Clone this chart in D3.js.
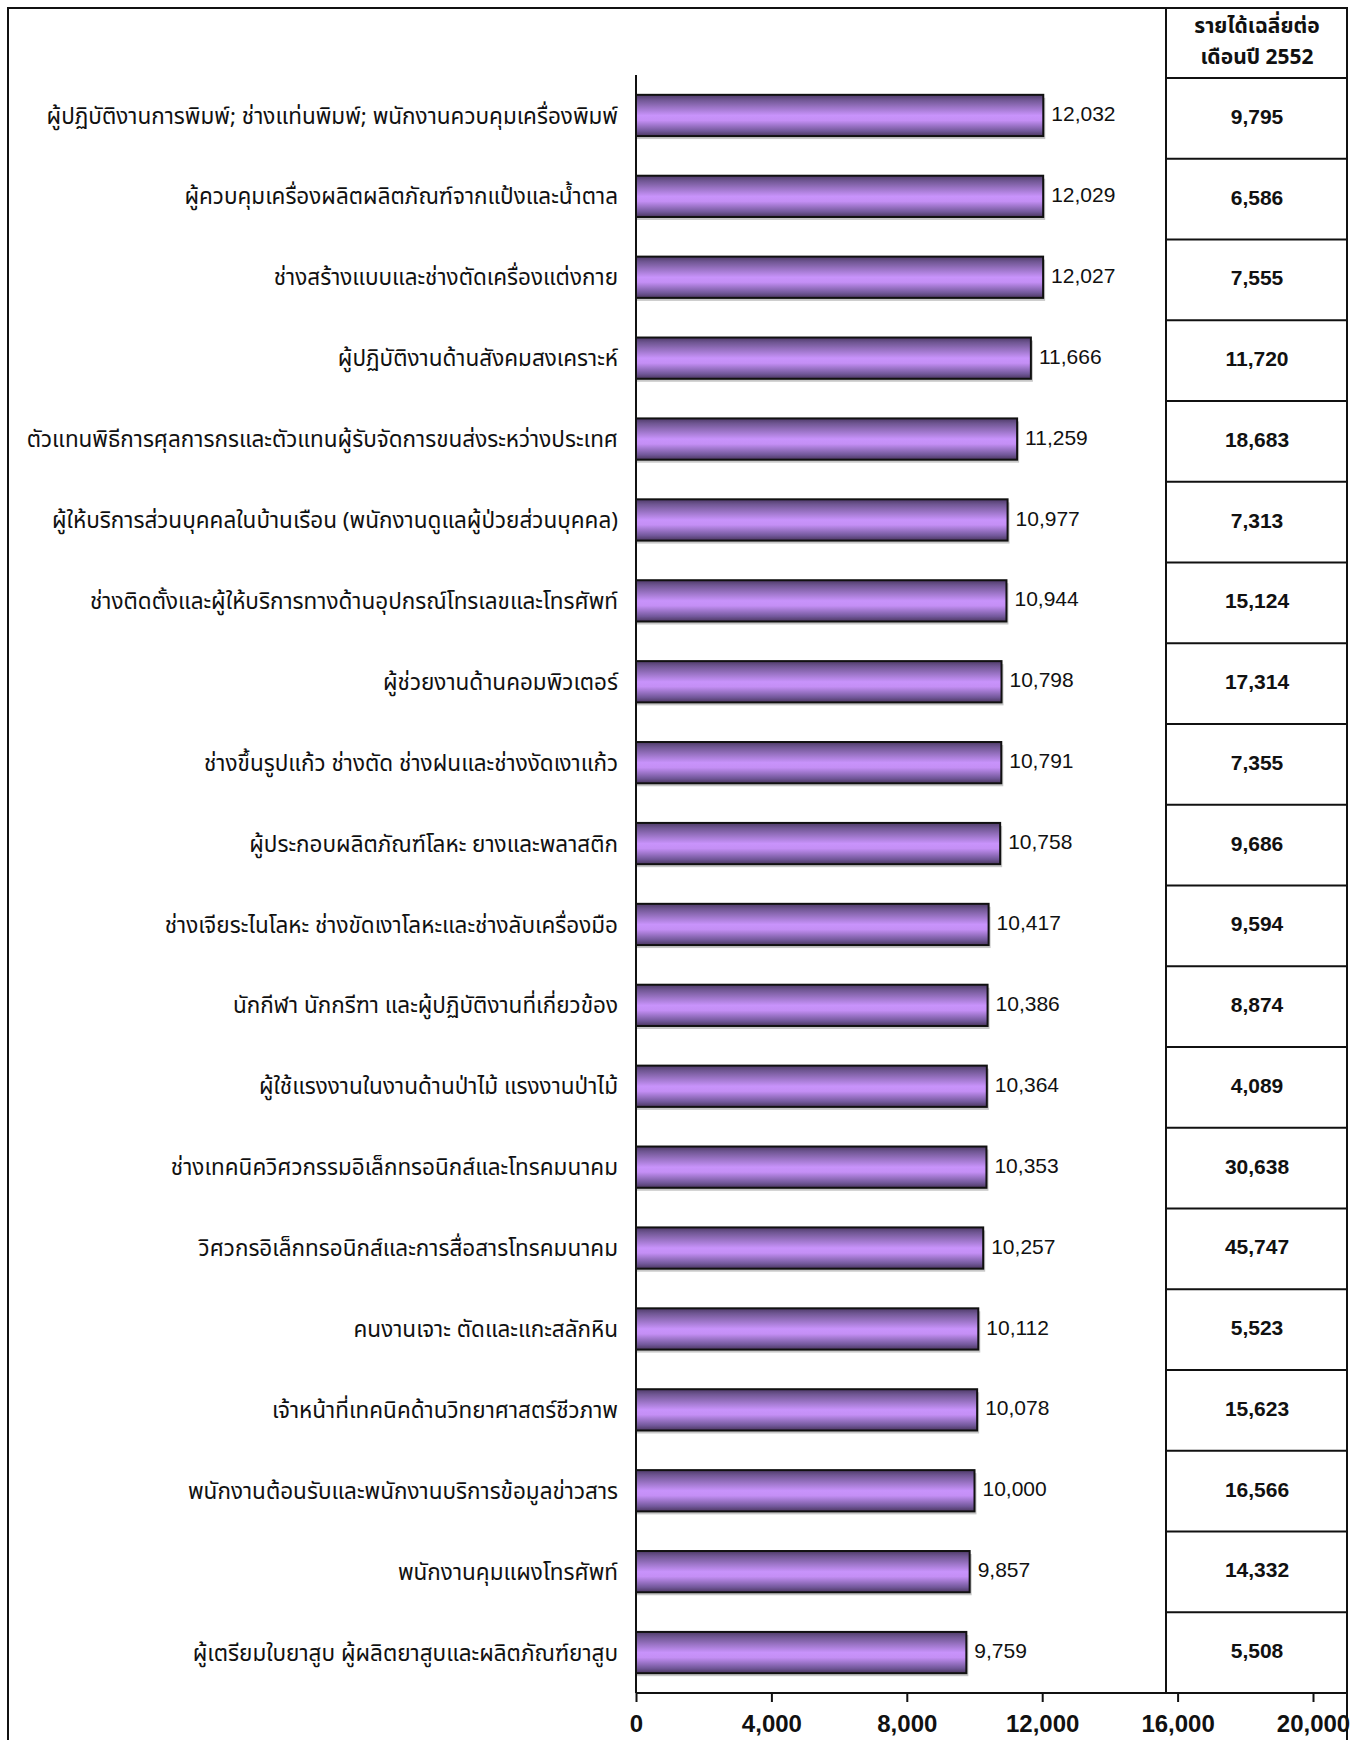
<!DOCTYPE html>
<html><head><meta charset="utf-8">
<script src="https://cdn.jsdelivr.net/npm/d3@7"></script>
<style>body{margin:0;background:#fff}svg{display:block}</style>
</head><body>
<svg id="c" width="1355" height="1740"></svg>
<script>
const categories = [
 "ผู้ปฏิบัติงานการพิมพ์; ช่างแท่นพิมพ์; พนักงานควบคุมเครื่องพิมพ์",
 "ผู้ควบคุมเครื่องผลิตผลิตภัณฑ์จากแป้งและน้ำตาล",
 "ช่างสร้างแบบและช่างตัดเครื่องแต่งกาย",
 "ผู้ปฏิบัติงานด้านสังคมสงเคราะห์",
 "ตัวแทนพิธีการศุลการกรและตัวแทนผู้รับจัดการขนส่งระหว่างประเทศ",
 "ผู้ให้บริการส่วนบุคคลในบ้านเรือน (พนักงานดูแลผู้ป่วยส่วนบุคคล)",
 "ช่างติดตั้งและผู้ให้บริการทางด้านอุปกรณ์โทรเลขและโทรศัพท์",
 "ผู้ช่วยงานด้านคอมพิวเตอร์",
 "ช่างขึ้นรูปแก้ว ช่างตัด ช่างฝนและช่างงัดเงาแก้ว",
 "ผู้ประกอบผลิตภัณฑ์โลหะ ยางและพลาสติก",
 "ช่างเจียระไนโลหะ ช่างขัดเงาโลหะและช่างลับเครื่องมือ",
 "นักกีฬา นักกรีฑา และผู้ปฏิบัติงานที่เกี่ยวข้อง",
 "ผู้ใช้แรงงานในงานด้านป่าไม้ แรงงานป่าไม้",
 "ช่างเทคนิควิศวกรรมอิเล็กทรอนิกส์และโทรคมนาคม",
 "วิศวกรอิเล็กทรอนิกส์และการสื่อสารโทรคมนาคม",
 "คนงานเจาะ ตัดและแกะสลักหิน",
 "เจ้าหน้าที่เทคนิคด้านวิทยาศาสตร์ชีวภาพ",
 "พนักงานต้อนรับและพนักงานบริการข้อมูลข่าวสาร",
 "พนักงานคุมแผงโทรศัพท์",
 "ผู้เตรียมใบยาสูบ ผู้ผลิตยาสูบและผลิตภัณฑ์ยาสูบ"
];
const values = [12032,12029,12027,11666,11259,10977,10944,10798,10791,10758,10417,10386,10364,10353,10257,10112,10078,10000,9857,9759];
const income2552 = [9795,6586,7555,11720,18683,7313,15124,17314,7355,9686,9594,8874,4089,30638,45747,5523,15623,16566,14332,5508];
const tableHeader = ["รายได้เฉลี่ยต่อ","เดือนปี 2552"];
const xTicks = [0,4000,8000,12000,16000,20000];

const svg = d3.select("#c");
const fmt = d3.format(",");
const thai = "'Noto Sans Thai','Noto Sans Thai Looped','Tlwg Typo','Loma','Garuda',sans-serif";

const defs = svg.append("defs");
const g = defs.append("linearGradient").attr("id","barGrad").attr("x1",0).attr("y1",0).attr("x2",0).attr("y2",1);
[[0,"#4e3a68"],[0.12,"#6f5692"],[0.5,"#c893fb"],[0.62,"#c48ff5"],[0.88,"#72589a"],[1,"#4a365f"]]
 .forEach(([o,c])=>g.append("stop").attr("offset",o).attr("stop-color",c));

// outer frame
svg.append("rect").attr("x",8).attr("y",8).attr("width",1339).attr("height",1745)
 .attr("fill","none").attr("stroke","#111").attr("stroke-width",2);

const x = d3.scaleLinear().domain([0,20000]).range([636,1313]);
const y = d3.scaleBand().domain(categories).range([75,1693]).paddingInner(0.49).paddingOuter(0.245);
const yt = d3.scaleBand().domain(categories).range([78,1693]);

// table
const tbl = svg.append("g");
tbl.append("rect").attr("x",1166).attr("y",8).attr("width",181).attr("height",1685)
 .attr("fill","none").attr("stroke","#111").attr("stroke-width",2);
tbl.selectAll("line.row").data(categories).join("line").attr("class","row")
 .attr("x1",1166).attr("x2",1347).attr("y1",d=>yt(d)).attr("y2",d=>yt(d))
 .attr("stroke","#111").attr("stroke-width",2);
tbl.selectAll("text.hdr").data(tableHeader).join("text").attr("class","hdr")
 .attr("x",1257).attr("y",(d,i)=>33+i*31).attr("text-anchor","middle")
 .attr("font-family",thai).attr("font-weight","bold").attr("font-size",21).attr("fill","#111").text(d=>d);
tbl.selectAll("text.val").data(income2552).join("text").attr("class","val")
 .attr("x",1257).attr("y",(d,i)=>yt(categories[i])+yt.bandwidth()/2-2).attr("dy","0.36em")
 .attr("text-anchor","middle").attr("font-family","'Liberation Sans',Arial,sans-serif")
 .attr("font-weight","bold").attr("font-size",21).attr("fill","#111").text(d=>fmt(d));

// bars
const bars = svg.append("g");
bars.selectAll("rect.sh").data(values).join("rect").attr("class","sh")
 .attr("x",x(0)).attr("y",(d,i)=>y(categories[i])+3).attr("width",d=>x(d)-x(0)+2).attr("height",y.bandwidth())
 .attr("fill","#c8c8c8");
bars.selectAll("rect.bar").data(values).join("rect").attr("class","bar")
 .attr("x",x(0)).attr("y",(d,i)=>y(categories[i])).attr("width",d=>x(d)-x(0)).attr("height",y.bandwidth())
 .attr("fill","url(#barGrad)").attr("stroke","#111").attr("stroke-width",2);
bars.selectAll("text.lab").data(values).join("text").attr("class","lab")
 .attr("x",d=>x(d)+8).attr("y",(d,i)=>y(categories[i])+y.bandwidth()/2-2).attr("dy","0.36em")
 .attr("font-family","'Liberation Sans',Arial,sans-serif").attr("font-size",21).attr("fill","#111")
 .text(d=>fmt(d));

// category labels
svg.append("g").selectAll("text").data(categories).join("text")
 .attr("x",618).attr("y",d=>y(d)+y.bandwidth()/2).attr("dy","0.36em").attr("text-anchor","end")
 .attr("font-family",thai).attr("font-size",22.5).attr("fill","#111").text(d=>d);

// axes
svg.append("line").attr("x1",636).attr("x2",636).attr("y1",75).attr("y2",1693).attr("stroke","#111").attr("stroke-width",2);
const xa = svg.append("g").attr("transform","translate(0,1693)")
 .call(d3.axisBottom(x).tickValues(xTicks).tickSize(9).tickSizeOuter(0).tickFormat(fmt));
xa.select(".domain").attr("d","M636,0H1347").attr("stroke","#111").attr("stroke-width",2);
xa.selectAll(".tick line").attr("stroke","#111").attr("stroke-width",2);
xa.selectAll(".tick text").attr("y",22).attr("font-family","'Liberation Sans Narrow','Liberation Sans',sans-serif")
 .attr("font-weight","bold").attr("font-size",24).attr("fill","#111");
</script>
</body></html>
